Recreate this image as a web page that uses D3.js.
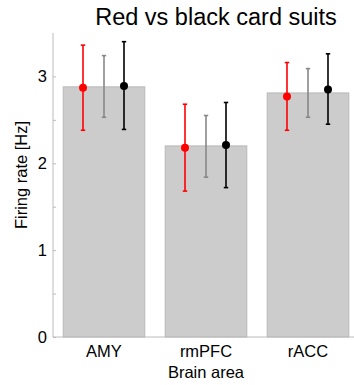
<!DOCTYPE html>
<html>
<head>
<script src="https://d3js.org/d3.v7.min.js"></script>
<style>
  html, body { margin: 0; padding: 0; background: white; }
  text { font-family: 'Liberation Sans', Arial, sans-serif; fill: black; }
</style>
</head>
<body>
<script>

// DATA
const areas = ['AMY', 'rmPFC', 'rACC']
const barMean = [2.88, 2.20, 2.81]
const redMean = [2.87, 2.18, 2.77]
const redLo = [2.38, 1.68, 2.38]
const redHi = [3.36, 2.68, 3.16]
const grayLo = [2.53, 1.84, 2.53]
const grayHi = [3.24, 2.55, 3.09]
const blackMean = [2.89, 2.21, 2.85]
const blackLo = [2.39, 1.72, 2.45]
const blackHi = [3.40, 2.70, 3.26]
const yTicks = [0, 1, 2, 3]

// LAYOUT
const W = 354, H = 385
const mLeft = 53, mRight = 359, mTop = 33, mBottom = 337
const fs = 16.5

const svg = d3.select('body').append('svg')
    .attr('width', W).attr('height', H)

const x = d3.scaleBand().domain(areas).range([mLeft, mRight]).padding(0.2).paddingOuter(0.1)
const y = d3.scaleLinear().domain([0, 3.5]).range([mBottom, mTop])

// bars
svg.selectAll('rect.bar').data(areas).enter().append('rect')
    .attr('class', 'bar')
    .attr('x', d => x(d))
    .attr('width', x.bandwidth())
    .attr('y', (d, i) => y(barMean[i]))
    .attr('height', (d, i) => y(0) - y(barMean[i]))
    .attr('fill', '#cccccc')
    .attr('stroke', '#b8b8b8')
    .attr('stroke-width', 1)

// axes
const yAxis = svg.append('g').attr('transform', 'translate(' + mLeft + ',0)')
    .call(d3.axisRight(y).tickValues(d3.range(0, 3.5, 0.5)).tickSize(3).tickFormat(''))
yAxis.select('.domain').attr('stroke', '#bbbbbb').attr('d', 'M0,' + mTop + 'V' + mBottom)
yAxis.selectAll('.tick line').attr('stroke', '#bbbbbb')

svg.selectAll('text.ytick').data(yTicks).enter().append('text')
    .attr('class', 'ytick')
    .attr('x', mLeft - 6)
    .attr('y', d => y(d) + 6)
    .attr('text-anchor', 'end')
    .attr('font-size', fs)
    .text(d => d)

svg.append('line')
    .attr('x1', mLeft).attr('x2', mRight)
    .attr('y1', mBottom).attr('y2', mBottom)
    .attr('stroke', '#bbbbbb')

svg.selectAll('text.xtick').data(areas).enter().append('text')
    .attr('class', 'xtick')
    .attr('x', d => x(d) + x.bandwidth() / 2)
    .attr('y', 357)
    .attr('text-anchor', 'middle')
    .attr('font-size', fs)
    .text(d => d)

svg.append('text')
    .attr('x', x('rmPFC') + x.bandwidth() / 2)
    .attr('y', 378)
    .attr('text-anchor', 'middle')
    .attr('font-size', fs)
    .text('Brain area')

svg.append('text')
    .attr('transform', 'translate(27,175) rotate(-90)')
    .attr('text-anchor', 'middle')
    .attr('font-size', fs)
    .text('Firing rate [Hz]')

svg.append('text')
    .attr('x', 216)
    .attr('y', 25)
    .attr('text-anchor', 'middle')
    .attr('font-size', 23.5)
    .text('Red vs black card suits')

// error bars
function errorBars(offset, color, lo, hi, mean) {
    const g = svg.append('g')
    areas.forEach((a, i) => {
        const cx = x(a) + x.bandwidth() / 2 + offset
        g.append('line')
            .attr('x1', cx).attr('x2', cx)
            .attr('y1', y(lo[i])).attr('y2', y(hi[i]))
            .attr('stroke', color).attr('stroke-width', 1.6)
        ;[lo[i], hi[i]].forEach(v => {
            g.append('line')
                .attr('x1', cx - 2.2).attr('x2', cx + 2.2)
                .attr('y1', y(v)).attr('y2', y(v))
                .attr('stroke', color).attr('stroke-width', 1.6)
        })
        if (mean) {
            g.append('circle')
                .attr('cx', cx).attr('cy', y(mean[i]))
                .attr('r', 4)
                .attr('fill', color)
        }
    })
}

errorBars(-21, '#ff0000', redLo, redHi, redMean)
errorBars(0, '#888888', grayLo, grayHi, null)
errorBars(20, '#000000', blackLo, blackHi, blackMean)

</script>
</body>
</html>
